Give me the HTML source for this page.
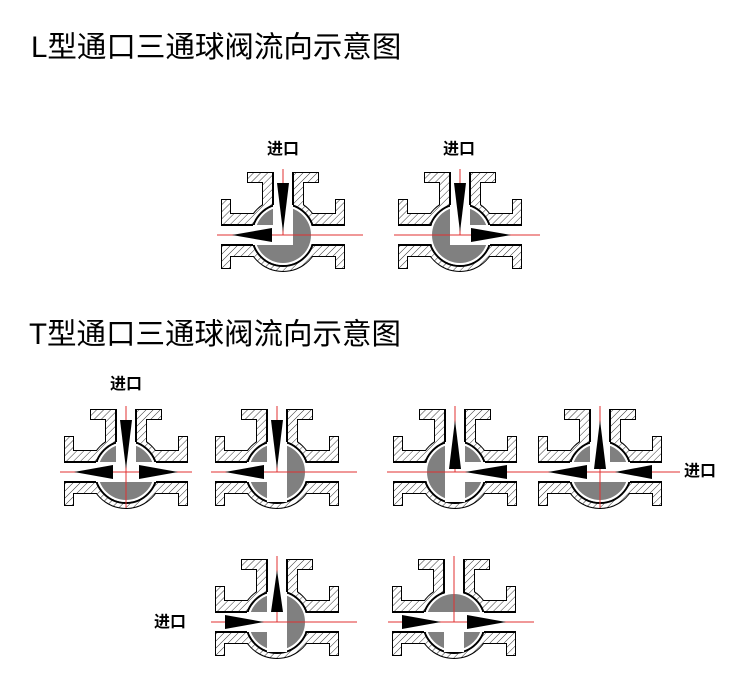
<!DOCTYPE html>
<html><head><meta charset="utf-8"><style>
html,body{margin:0;padding:0;background:#fff;}
svg{display:block;}
text{font-family:"Liberation Sans","Noto Sans CJK SC",sans-serif;fill:#000;}
</style></head><body>
<svg width="750" height="700" viewBox="0 0 750 700" xmlns="http://www.w3.org/2000/svg">
<defs>
<pattern id="h" patternUnits="userSpaceOnUse" width="5" height="5" patternTransform="rotate(45)">
<rect width="5" height="5" fill="#fff"/><line x1="0" y1="0" x2="0" y2="5" stroke="#333" stroke-width="1"/>
</pattern>
<g id="body">
 <g stroke="#000" stroke-width="2" fill="none">
  <rect x="-61" y="-35" width="8" height="68"/>
  <rect x="53" y="-35" width="8" height="68"/>
  <rect x="-35" y="-62" width="70" height="9"/>
  <rect x="-20" y="-55" width="40" height="40"/>
  <rect x="-55" y="-21" width="110" height="42"/>
  <circle cx="0" cy="0" r="36"/>
 </g>
 <g fill="url(#h)" stroke="none">
  <rect x="-61" y="-35" width="8" height="68"/>
  <rect x="53" y="-35" width="8" height="68"/>
  <rect x="-35" y="-62" width="70" height="9"/>
  <rect x="-20" y="-55" width="40" height="40"/>
  <rect x="-55" y="-21" width="110" height="42"/>
  <circle cx="0" cy="0" r="36"/>
 </g>
 <g stroke="#000" stroke-width="2" fill="none">
  <rect x="-61" y="-10" width="122" height="20"/>
  <rect x="-10" y="-62" width="20" height="60"/>
  <circle cx="0" cy="0" r="31"/>
 </g>
 <g fill="#fff" stroke="none">
  <rect x="-62" y="-9" width="124" height="18"/>
  <rect x="-9" y="-63" width="18" height="60"/>
  <circle cx="0" cy="0" r="30"/>
 </g>
 <circle cx="0" cy="0" r="28" fill="#808080"/>
</g>
</defs>

<text x="31" y="57" font-size="29.5">L型通口三通球阀流向示意图</text>
<text x="29" y="344" font-size="29.5">T型通口三通球阀流向示意图</text>

<g font-size="16" font-weight="bold">
<text x="267" y="154">进口</text>
<text x="443" y="154">进口</text>
<text x="110" y="389">进口</text>
<text x="684" y="476">进口</text>
<text x="154" y="627">进口</text>
</g>

<!-- L1 -->
<g transform="translate(283,235)">
 <use href="#body"/>
 <rect x="-10" y="-30" width="20" height="40" fill="#fff"/>
 <rect x="-30" y="-10" width="40" height="20" fill="#fff"/>
 <line x1="-66" y1="0" x2="80" y2="0" stroke="#e03030" stroke-width="1"/>
 <line x1="0" y1="-66" x2="0" y2="0" stroke="#e03030" stroke-width="1"/>
 <polygon points="-6,-52 6,-52 0,-3" fill="#000"/>
 <polygon points="-51,0 -11,-7 -11,7" fill="#000"/>
</g>
<!-- L2 -->
<g transform="translate(460,235)">
 <use href="#body"/>
 <rect x="-10" y="-30" width="20" height="40" fill="#fff"/>
 <rect x="-10" y="-10" width="40" height="20" fill="#fff"/>
 <line x1="-66" y1="0" x2="80" y2="0" stroke="#e03030" stroke-width="1"/>
 <line x1="0" y1="-66" x2="0" y2="0" stroke="#e03030" stroke-width="1"/>
 <polygon points="-6,-52 6,-52 0,-3" fill="#000"/>
 <polygon points="51,0 11,-7 11,7" fill="#000"/>
</g>

<!-- T1a -->
<g transform="translate(126,472)">
 <use href="#body"/>
 <rect x="-10" y="-30" width="20" height="40" fill="#fff"/>
 <rect x="-30" y="-10" width="60" height="20" fill="#fff"/>
 <line x1="-66" y1="0" x2="66" y2="0" stroke="#e03030" stroke-width="1"/>
 <line x1="0" y1="-66" x2="0" y2="36" stroke="#e03030" stroke-width="1"/>
 <polygon points="-6,-52 6,-52 0,-3" fill="#000"/>
 <polygon points="-52,0 -13,-7 -13,7" fill="#000"/>
 <polygon points="52,0 13,-7 13,7" fill="#000"/>
</g>
<!-- T1b -->
<g transform="translate(277,472)">
 <use href="#body"/>
 <rect x="-10" y="-30" width="20" height="60" fill="#fff"/>
 <rect x="-30" y="-10" width="40" height="20" fill="#fff"/>
 <line x1="-66" y1="0" x2="80" y2="0" stroke="#e03030" stroke-width="1"/>
 <line x1="0" y1="-66" x2="0" y2="0" stroke="#e03030" stroke-width="1"/>
 <polygon points="-6,-52 6,-52 0,-3" fill="#000"/>
 <polygon points="-52,0 -13,-7 -13,7" fill="#000"/>
</g>
<!-- T1c -->
<g transform="translate(455,472)">
 <use href="#body"/>
 <rect x="-10" y="-30" width="20" height="60" fill="#fff"/>
 <rect x="-10" y="-10" width="40" height="20" fill="#fff"/>
 <line x1="-68" y1="0" x2="80" y2="0" stroke="#e03030" stroke-width="1"/>
 <line x1="0" y1="-66" x2="0" y2="0" stroke="#e03030" stroke-width="1"/>
 <polygon points="-6,-3 6,-3 0,-52" fill="#000"/>
 <polygon points="10,0 52,-7 52,7" fill="#000"/>
</g>
<!-- T1d -->
<g transform="translate(600,472)">
 <use href="#body"/>
 <rect x="-10" y="-30" width="20" height="40" fill="#fff"/>
 <rect x="-30" y="-10" width="60" height="20" fill="#fff"/>
 <line x1="-66" y1="0" x2="80" y2="0" stroke="#e03030" stroke-width="1"/>
 <line x1="0" y1="-66" x2="0" y2="36" stroke="#e03030" stroke-width="1"/>
 <polygon points="-6,-3 6,-3 0,-52" fill="#000"/>
 <polygon points="-52,0 -13,-7 -13,7" fill="#000"/>
 <polygon points="15,0 52,-7 52,7" fill="#000"/>
</g>

<!-- T2a -->
<g transform="translate(277,622)">
 <use href="#body"/>
 <rect x="-10" y="-30" width="20" height="60" fill="#fff"/>
 <rect x="-30" y="-10" width="40" height="20" fill="#fff"/>
 <line x1="-66" y1="0" x2="80" y2="0" stroke="#e03030" stroke-width="1"/>
 <line x1="0" y1="-66" x2="0" y2="0" stroke="#e03030" stroke-width="1"/>
 <polygon points="-6,-10 6,-10 0,-52" fill="#000"/>
 <polygon points="-13,0 -52,-7 -52,7" fill="#000"/>
</g>
<!-- T2b -->
<g transform="translate(454,622)">
 <use href="#body"/>
 <rect x="-10" y="-10" width="20" height="40" fill="#fff"/>
 <rect x="-30" y="-10" width="60" height="20" fill="#fff"/>
 <line x1="-66" y1="0" x2="80" y2="0" stroke="#e03030" stroke-width="1"/>
 <line x1="0" y1="-66" x2="0" y2="0" stroke="#e03030" stroke-width="1"/>
 <polygon points="-13,0 -52,-7 -52,7" fill="#000"/>
 <polygon points="52,0 13,-7 13,7" fill="#000"/>
</g>
</svg>
</body></html>
